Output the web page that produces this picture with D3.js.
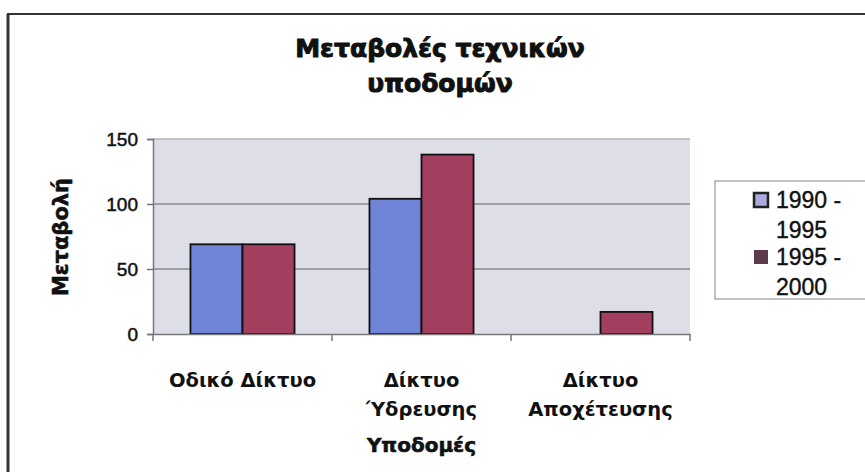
<!DOCTYPE html>
<html>
<head>
<meta charset="utf-8">
<script src="https://cdn.jsdelivr.net/npm/d3@7"></script>
<style>
  body { margin: 0; background: #fff; }
  svg { display: block; }
  text { fill: #111; }
</style>
</head>
<body>
<svg id="chart" width="865" height="472"></svg>
<script>
// Chart data
const categories = ["Οδικό Δίκτυο", "Δίκτυο Ύδρευσης", "Δίκτυο Αποχέτευσης"];
const categoryLines = [["Οδικό Δίκτυο"], ["Δίκτυο", "Ύδρευσης"], ["Δίκτυο", "Αποχέτευσης"]];
const seriesNames = ["1990 - 1995", "1995 - 2000"];
const legendLines = [["1990 -", "1995"], ["1995 -", "2000"]];
const values1990 = [69, 104, 0];
const values1995 = [69, 138, 17];
const yTicks = [0, 50, 100, 150];

const titleLines = ["Μεταβολές τεχνικών", "υποδομών"];
const yTitle = "Μεταβολή";
const xTitle = "Υποδομές";

const colors = ["#6f84d6", "#a33f5e"];
const legendFill = ["#aaaadc", "#5c3c4c"];

/*************************************/
/*  Layout                           */
/*************************************/
const svg = d3.select("#chart");
const plot = { left: 153, top: 139, right: 690, bottom: 334 };

// Outer chart frame
svg.append("line")
  .attr("x1", 8).attr("x2", 8).attr("y1", 14).attr("y2", 472)
  .attr("stroke", "#333").attr("stroke-width", 3);
svg.append("line")
  .attr("x1", 7).attr("x2", 865).attr("y1", 14).attr("y2", 14)
  .attr("stroke", "#333").attr("stroke-width", 2);

const xScale = d3.scaleBand()
  .domain(categories)
  .range([plot.left, plot.right])
  .padding(0);

const subScale = d3.scaleBand()
  .domain(seriesNames)
  .range([0, xScale.bandwidth()])
  .paddingInner(0)
  .paddingOuter(0.72);

const yScale = d3.scaleLinear()
  .domain([0, 150])
  .range([plot.bottom, plot.top]);

// Plot background
svg.append("rect")
  .attr("x", plot.left).attr("y", plot.top)
  .attr("width", plot.right - plot.left)
  .attr("height", plot.bottom - plot.top)
  .attr("fill", "#dddee7");

// Gridlines
svg.append("g")
  .selectAll("line")
  .data(yTicks.filter(t => t > 0))
  .join("line")
    .attr("x1", plot.left).attr("x2", plot.right)
    .attr("y1", d => yScale(d)).attr("y2", d => yScale(d))
    .attr("stroke", d => d === 150 ? "#b4b4b8" : "#8a8a8a")
    .attr("stroke-width", 1.5);

/*************************************/
/*  Bars                             */
/*************************************/
const rows = categories.map((c, i) => ({
  category: c,
  items: [
    { series: seriesNames[0], value: values1990[i], color: colors[0] },
    { series: seriesNames[1], value: values1995[i], color: colors[1] }
  ]
}));

svg.append("g")
  .selectAll("g")
  .data(rows)
  .join("g")
    .attr("transform", d => `translate(${xScale(d.category)},0)`)
  .selectAll("rect")
  .data(d => d.items.filter(it => it.value > 0))
  .join("rect")
    .attr("x", d => subScale(d.series))
    .attr("y", d => yScale(d.value))
    .attr("width", subScale.bandwidth())
    .attr("height", d => yScale(0) - yScale(d.value))
    .attr("fill", d => d.color)
    .attr("stroke", "#111")
    .attr("stroke-width", 1.8);

/*************************************/
/*  Axes                             */
/*************************************/
const yAxis = svg.append("g")
  .attr("transform", `translate(${plot.left},0)`)
  .call(d3.axisLeft(yScale).tickValues(yTicks).tickSize(6).tickPadding(9));
yAxis.select(".domain").attr("stroke", "#777").attr("stroke-width", 1.5);
yAxis.selectAll(".tick line").attr("stroke", "#777").attr("stroke-width", 1.5);
yAxis.selectAll(".tick text")
  .attr("font-family", "Liberation Sans, Arial, sans-serif")
  .attr("font-size", 19)
  .attr("fill", "#111")
  .attr("stroke", "#111")
  .attr("stroke-width", 0.5);

const xAxis = svg.append("g")
  .attr("transform", `translate(0,${plot.bottom})`)
  .call(d3.axisBottom(xScale).tickSize(0).tickFormat(""));
xAxis.select(".domain").attr("stroke", "#777").attr("stroke-width", 1.5);

// Category separator ticks
svg.append("g")
  .selectAll("line")
  .data(categories.map(c => xScale(c)).concat([plot.right]))
  .join("line")
    .attr("x1", d => d).attr("x2", d => d)
    .attr("y1", plot.bottom).attr("y2", plot.bottom + 7)
    .attr("stroke", "#777").attr("stroke-width", 1.5);

// Category labels
svg.append("g")
  .selectAll("text")
  .data(categories)
  .join("text")
    .attr("x", d => xScale(d) + xScale.bandwidth() / 2)
    .attr("y", 387)
    .attr("text-anchor", "middle")
    .attr("font-family", "DejaVu Sans, sans-serif")
    .attr("font-weight", "bold")
    .attr("font-size", 19.5)
    .selectAll("tspan")
    .data((d, i) => categoryLines[i])
    .join("tspan")
      .attr("x", function () { return this.parentNode.getAttribute("x"); })
      .attr("dy", (d, i) => i === 0 ? 0 : 29)
      .text(d => d);

// Titles
svg.append("text")
  .attr("x", 440).attr("y", 57)
  .attr("text-anchor", "middle")
  .attr("font-family", "DejaVu Sans, sans-serif")
  .attr("font-weight", "bold")
  .attr("font-size", 25)
  .attr("stroke", "#111")
  .attr("stroke-width", 1)
  .selectAll("tspan")
  .data(titleLines)
  .join("tspan")
    .attr("x", 440)
    .attr("dy", (d, i) => i === 0 ? 0 : 35)
    .text(d => d);

svg.append("text")
  .attr("transform", "translate(68,237) rotate(-90)")
  .attr("text-anchor", "middle")
  .attr("font-family", "DejaVu Sans, sans-serif")
  .attr("font-weight", "bold")
  .attr("font-size", 21)
  .attr("stroke", "#111")
  .attr("stroke-width", 0.6)
  .text(yTitle);

svg.append("text")
  .attr("x", (plot.left + plot.right) / 2).attr("y", 452)
  .attr("text-anchor", "middle")
  .attr("font-family", "DejaVu Sans, sans-serif")
  .attr("font-weight", "bold")
  .attr("font-size", 20)
  .attr("stroke", "#111")
  .attr("stroke-width", 0.6)
  .text(xTitle);

/*************************************/
/*  Legend                           */
/*************************************/
const legend = svg.append("g");
legend.append("rect")
  .attr("x", 715).attr("y", 181)
  .attr("width", 160).attr("height", 118)
  .attr("fill", "#fff")
  .attr("stroke", "#999").attr("stroke-width", 1.2);

const legendItems = legend.selectAll("g.item")
  .data(seriesNames)
  .join("g")
    .attr("class", "item")
    .attr("transform", (d, i) => `translate(0,${i * 57})`);

legendItems.append("rect")
  .attr("x", 754).attr("y", 193)
  .attr("width", 14).attr("height", 14)
  .attr("fill", (d, i) => legendFill[i])
  .attr("stroke", (d, i) => i === 0 ? "#222" : "none")
  .attr("stroke-width", 2.5);

legendItems.append("text")
  .attr("x", 776).attr("y", 208)
  .attr("font-family", "Liberation Sans, Arial, sans-serif")
  .attr("font-size", 23)
  .attr("stroke", "#111")
  .attr("stroke-width", 0.4)
  .selectAll("tspan")
  .data((d, i) => legendLines[i])
  .join("tspan")
    .attr("x", 776)
    .attr("dy", (d, i) => i === 0 ? 0 : 30)
    .text(d => d);
</script>
</body>
</html>
